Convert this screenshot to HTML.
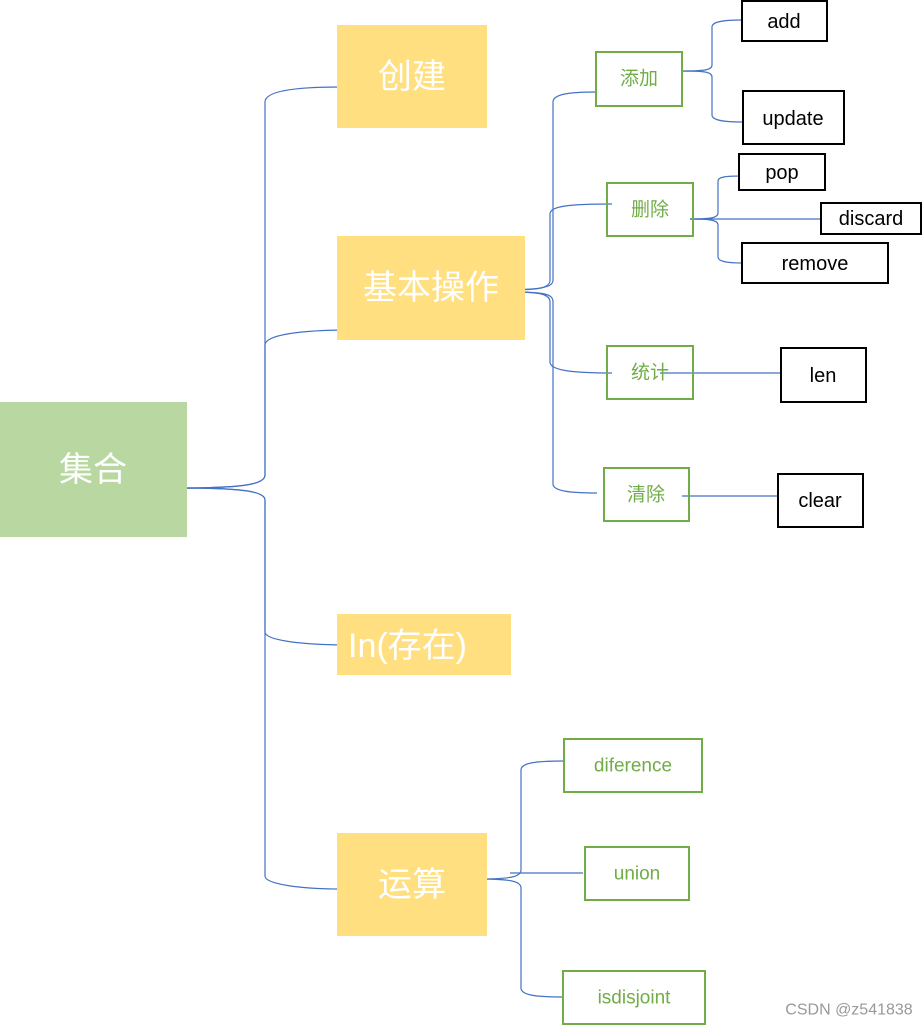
<!DOCTYPE html>
<html><head><meta charset="utf-8"><style>
body{margin:0;background:#fff;width:922px;height:1025px;overflow:hidden}
svg{display:block}
text{font-family:"Liberation Sans","Noto Sans CJK SC",sans-serif;dominant-baseline:central;text-anchor:middle}
</style></head><body>
<svg width="922" height="1025" viewBox="0 0 922 1025">
<g fill="none" stroke="#4472c4" stroke-width="1.2">
<!-- root -->
<path d="M178,488 C240,488 265,485 265,475 V102 C265,92 290,87 340,87"/>
<path d="M178,488 C240,488 265,485 265,475 V345 C265,335 300,330 350,330"/>
<path d="M178,488 C240,488 265,491 265,500 V632 C265,640 300,645 350,645"/>
<path d="M178,488 C240,488 265,491 265,500 V876 C265,884 300,889 340,889"/>
<!-- basic ops -->
<path d="M495,290 C540,290 553,288 553,280 V102 C553,94 570,92 597,92"/>
<path d="M505,290 C540,290 550,288 550,280 V214 C550,206 570,204 612,204"/>
<path d="M510,292 C540,292 550,294 550,302 V362 C550,370 570,373 612,373"/>
<path d="M510,292 C545,292 553,294 553,302 V484 C553,491 570,493 597,493"/>
<!-- add -->
<path d="M682,71 C705,71 712,70 712,65 V27 C712,22 722,20 742,20"/>
<path d="M682,71 C705,71 712,72 712,77 V115 C712,120 722,122 743,122"/>
<!-- delete -->
<path d="M690,219 C710,219 718,218 718,213 V181 C718,177 725,176 742,176"/>
<path d="M690,219 H821"/>
<path d="M690,219 C710,219 718,220 718,225 V257 C718,261 725,263 742,263"/>
<path d="M660,373 H795"/>
<path d="M682,496 H780"/>
<!-- ops -->
<path d="M478,879 C510,879 521,877 521,870 V770 C521,763 535,761 564,761"/>
<path d="M510,873 H583"/>
<path d="M478,879 C510,879 521,881 521,888 V988 C521,995 535,997 563,997"/>
</g>
<rect x="0" y="402" width="187" height="135" fill="#b9d7a0"/>
<text x="93" y="470" font-size="34" fill="#fff">集合</text>
<g fill="#ffdf80">
<rect x="337" y="25" width="150" height="103"/>
<rect x="337" y="236" width="188" height="104"/>
<rect x="337" y="614" width="174" height="61"/>
<rect x="337" y="833" width="150" height="103"/>
</g>
<g fill="#fff" font-size="34">
<text x="412" y="77">创建</text>
<text x="431" y="288">基本操作</text>
<text x="412" y="646" text-anchor="start" style="text-anchor:start" transform="translate(-64,0)">In(存在)</text>
<text x="412" y="885">运算</text>
</g>
<g fill="none" stroke="#70ad47" stroke-width="2">
<rect x="596" y="52" width="86" height="54"/>
<rect x="607" y="183" width="86" height="53"/>
<rect x="607" y="346" width="86" height="53"/>
<rect x="604" y="468" width="85" height="53"/>
<rect x="564" y="739" width="138" height="53"/>
<rect x="585" y="847" width="104" height="53"/>
<rect x="563" y="971" width="142" height="53"/>
</g>
<g fill="#70ad47" font-size="19">
<text x="639" y="79">添加</text>
<text x="650" y="210">删除</text>
<text x="650" y="373">统计</text>
<text x="646" y="495">清除</text>
<text x="633" y="766">diference</text>
<text x="637" y="874">union</text>
<text x="634" y="998">isdisjoint</text>
</g>
<g fill="#fff" stroke="#000" stroke-width="2">
<rect x="742" y="1" width="85" height="40"/>
<rect x="743" y="91" width="101" height="53"/>
<rect x="739" y="154" width="86" height="36"/>
<rect x="821" y="203" width="100" height="31"/>
<rect x="742" y="243" width="146" height="40"/>
<rect x="781" y="348" width="85" height="54"/>
<rect x="778" y="474" width="85" height="53"/>
</g>
<g fill="#000" font-size="20">
<text x="784" y="22">add</text>
<text x="793" y="119">update</text>
<text x="782" y="173">pop</text>
<text x="871" y="219">discard</text>
<text x="815" y="264">remove</text>
<text x="823" y="376">len</text>
<text x="820" y="501">clear</text>
</g>
<text x="849" y="1010" font-size="16" fill="#999">CSDN @z541838</text>
</svg>
</body></html>
